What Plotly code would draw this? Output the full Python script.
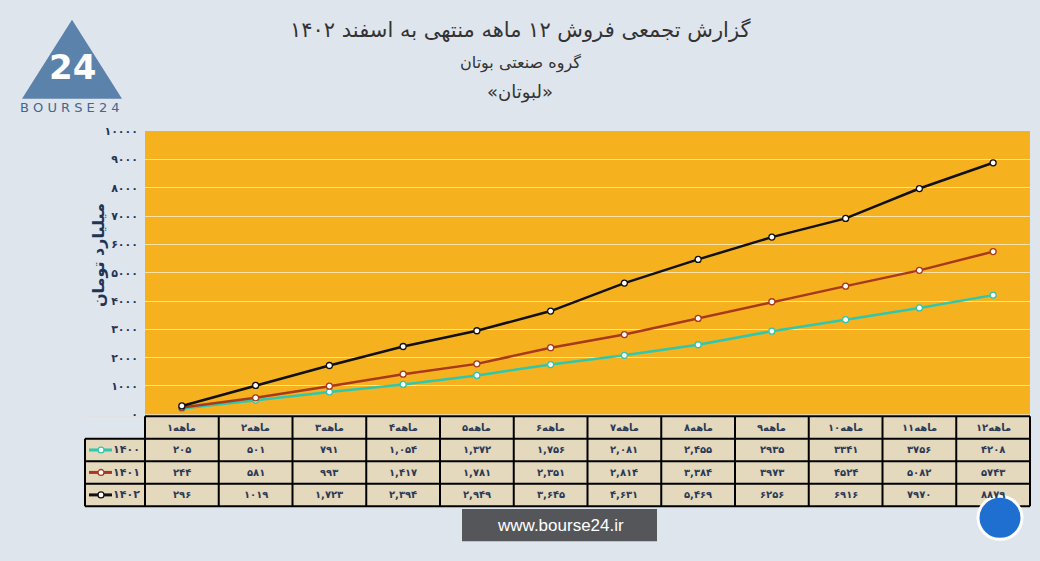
import plotly.graph_objects as go

W, H = 1040, 561

def fa(s):
    return str(s).translate(str.maketrans("0123456789", "۰۱۲۳۴۵۶۷۸۹"))

months = [fa(i) + "ماهه" for i in range(1, 13)]
years = ["1400", "1401", "1402"]
sales_1400 = [205, 501, 791, 1054, 1372, 1756, 2081, 2455, 2935, 3341, 3756, 4208]
sales_1401 = [244, 581, 993, 1417, 1781, 2351, 2814, 3384, 3973, 4524, 5082, 5743]
sales_1402 = [296, 1019, 1723, 2394, 2949, 3645, 4631, 5469, 6256, 6916, 7970, 8879]
colors = ["#2fc7ad", "#a8391d", "#111111"]
yticks = list(range(0, 10001, 1000))

def py(v):
    return 1 - v / H

def px(v):
    return v / W

def cell_text(vals, comma_from):
    out = []
    for i, v in enumerate(vals):
        if comma_from <= i <= 7 and v >= 1000:
            out.append(fa(f"{v:,}"))
        else:
            out.append(fa(v))
    return out

fig = go.Figure()
series = [sales_1400, sales_1401, sales_1402]
for name, vals, c in zip(years, series, colors):
    fig.add_trace(go.Scatter(
        x=list(range(12)), y=vals, mode="lines+markers", name=name,
        line=dict(color=c, width=2.5),
        marker=dict(size=6, color="white", line=dict(color=c, width=1.3)),
        showlegend=False))

rows = [
    cell_text(sales_1400, 3),
    cell_text(sales_1401, 3),
    cell_text(sales_1402, 2),
]

# table drawn with shapes and annotations
x_edges = [85, 145] + [145 + 73.75 * i for i in range(1, 13)]
y_edges = [420, 443, 466, 489, 512]
tfont = dict(family="DejaVu Sans", size=10, color="#2b3a55")
shapes = [dict(type="rect", xref="paper", yref="paper",
               x0=px(85), x1=px(1030), y0=py(512), y1=py(420),
               fillcolor="#e4d8bd", line=dict(width=0), layer="below")]
shapes.append(dict(type="rect", xref="paper", yref="paper",
                   x0=px(85), x1=px(145), y0=py(443), y1=py(420),
                   fillcolor="#dfe5ec", line=dict(width=0), layer="below"))
for xe in x_edges:
    y0 = 420 if xe > 85 else 443
    shapes.append(dict(type="line", xref="paper", yref="paper",
                       x0=px(xe), x1=px(xe), y0=py(y0), y1=py(512),
                       line=dict(color="black", width=2)))
for ye in y_edges:
    x0 = 85 if ye > 420 else 145
    shapes.append(dict(type="line", xref="paper", yref="paper",
                       x0=px(x0), x1=px(1030), y0=py(ye), y1=py(ye),
                       line=dict(color="black", width=2)))

annotations = []
for j in range(12):
    xc = (x_edges[j + 1] + x_edges[j + 2]) / 2
    annotations.append(dict(text=f"<b>{months[j]}</b>", x=px(xc), y=py(431.5), font=tfont))
    for r in range(3):
        annotations.append(dict(text=f"<b>{rows[r][j]}</b>", x=px(xc),
                                y=py(454.5 + 23 * r), font=tfont))
for r, (yv, c) in enumerate(zip(years, colors)):
    yc = 454.5 + 23 * r
    annotations.append(dict(text=f"<b>{fa(yv)}</b>", x=px(142), xanchor="right",
                            y=py(yc), font=dict(tfont, size=11)))
    shapes.append(dict(type="line", xref="paper", yref="paper",
                       x0=px(89), x1=px(112), y0=py(yc), y1=py(yc), line=dict(color=c, width=3)))
    shapes.append(dict(type="circle", xref="paper", yref="paper",
                       x0=px(98), x1=px(104), y0=py(yc + 3), y1=py(yc - 3),
                       fillcolor="white", line=dict(color=c, width=1.3)))

# logo triangle
shapes.append(dict(type="path", xref="paper", yref="paper",
                   path=f"M {px(22)} {py(95)} L {px(72)} {py(14)} L {px(122)} {py(95)} Z",
                   fillcolor="#5b82ab", line=dict(width=0)))
# footer box
shapes.append(dict(type="rect", xref="paper", yref="paper",
                   x0=px(462), x1=px(657), y0=py(548), y1=py(515),
                   fillcolor="#55565a", line=dict(width=0)))
shapes.append(dict(type="circle", xref="paper", yref="paper",
                   x0=px(978), x1=px(1022), y0=py(546), y1=py(502),
                   fillcolor="#1e6fd0", line=dict(color="white", width=3)))

annotations += [
    dict(text="گزارش تجمعی فروش ۱۲ ماهه منتهی به اسفند ۱۴۰۲", x=0.5, y=py(25),
         font=dict(size=21, color="#333333")),
    dict(text="گروه صنعتی بوتان", x=0.5, y=py(58), font=dict(size=16, color="#333333")),
    dict(text="«لبوتان»", x=0.5, y=py(88), font=dict(size=18, color="#333333")),
    dict(text="<b>میلیارد تومان</b>", x=px(98), y=py(255), textangle=-90,
         font=dict(size=16, color="#1f3557")),
    dict(text="<b>24</b>", x=px(72), y=py(62), font=dict(size=34, color="white")),
    dict(text="B O U R S E 2 4", x=px(70), y=py(104), font=dict(size=13, color="#44678f")),
    dict(text="www.bourse24.ir", x=px(560), y=py(532), font=dict(size=17, color="white",
         family="Liberation Sans")),
]
for a in annotations:
    a.update(xref="paper", yref="paper", showarrow=False, yanchor="middle")
    a.setdefault("xanchor", "center")
    a.setdefault("font", {}).setdefault("family", "DejaVu Sans")

fig.update_layout(
    width=W, height=H,
    margin=dict(l=0, r=0, t=0, b=0),
    paper_bgcolor="#dfe5ec",
    plot_bgcolor="#f6b11f",
    shapes=shapes, annotations=annotations,
    xaxis=dict(domain=[px(145), px(1030)], range=[-0.5, 11.5], visible=False),
    yaxis=dict(domain=[py(418), py(128)], range=[0, 10000], tickvals=yticks,
               ticktext=[f"<b>{fa(t)}</b>" for t in yticks],
               showgrid=True, gridcolor="#fce3a8", gridwidth=1, zeroline=False,
               ticks="", ticklabelstandoff=6,
               tickfont=dict(family="DejaVu Sans", size=11, color="#1f3557")),
)

fig.write_html("out.html", config={"displayModeBar": False},
               post_script="document.body.style.margin='0';document.body.style.overflow='hidden';")
